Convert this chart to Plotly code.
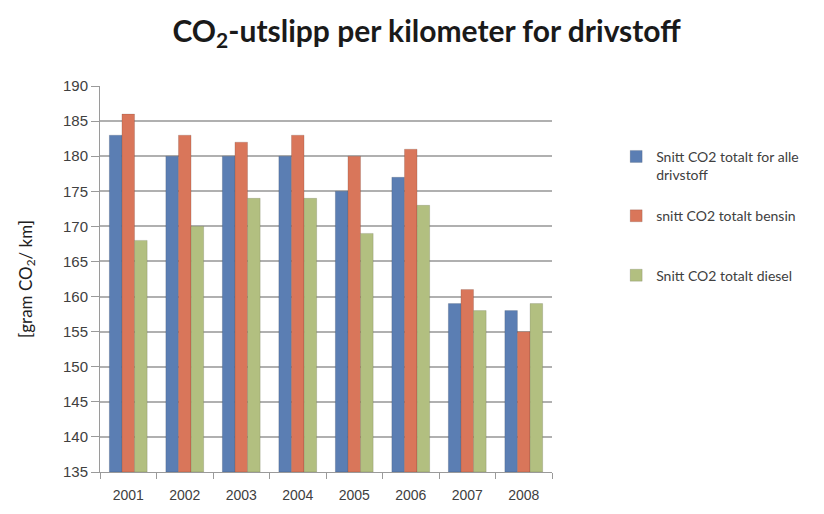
import plotly.graph_objects as go

YEARS = ["2001", "2002", "2003", "2004", "2005", "2006", "2007", "2008"]
ALLE = [183, 180, 180, 180, 175, 177, 159, 158]
BENSIN = [186, 183, 182, 183, 180, 181, 161, 155]
DIESEL = [168, 170, 174, 174, 169, 173, 158, 159]
FLOOR = 135

SERIES = [
    ("Snitt CO2 totalt for alle<br>drivstoff", ALLE, "#5B7EB3"),
    ("snitt CO2 totalt bensin<br> ", BENSIN, "#D9765A"),
    ("Snitt CO2 totalt diesel", DIESEL, "#B2BF80"),
]

fig = go.Figure()
for i, (name, vals, color) in enumerate(SERIES):
    fig.add_trace(
        go.Bar(
            x=YEARS,
            y=[v - FLOOR for v in vals],
            base=FLOOR,
            name=name,
            legendgroup=f"g{i}",
            hovertemplate="%{x}: %{customdata}<extra></extra>",
            customdata=vals,
            marker=dict(color=color, line=dict(color="rgba(0,0,0,0.12)", width=1)),
        )
    )

fig.update_layout(
    width=824,
    height=514,
    paper_bgcolor="white",
    plot_bgcolor="white",
    barmode="group",
    bargap=0.33,
    bargroupgap=0.0,
    margin=dict(l=92, r=280, t=78, b=50),
    title=dict(
        text="<b>CO<sub>2</sub>-utslipp per kilometer for drivstoff</b>",
        x=0.508,
        xanchor="center",
        y=0.955,
        yanchor="middle",
        font=dict(family="Lato", size=30, color="#1a1a1a"),
    ),
    font=dict(family="Liberation Sans", size=13, color="#404040"),
    legend=dict(
        x=1.142,
        y=0.858,
        xanchor="left",
        yanchor="top",
        valign="top",
        tracegroupgap=20,
        font=dict(family="Lato", size=14, color="#404040"),
        itemwidth=30,
    ),
    xaxis=dict(
        showline=True,
        linecolor="#9a9a9a",
        ticks="outside",
        ticklen=6,
        tickcolor="#9a9a9a",
        tickson="boundaries",
        tickfont=dict(size=14, color="#404040"),
        ticklabelstandoff=10,
    ),
    yaxis=dict(
        range=[FLOOR, 190],
        tickvals=list(range(FLOOR, 191, 5)),
        showline=True,
        linecolor="#9a9a9a",
        ticks="outside",
        ticklen=8,
        tickcolor="#9a9a9a",
        showgrid=True,
        gridcolor="#b0b0b0",
        gridwidth=1.5,
        tickfont=dict(size=15, color="#404040"),
        title=dict(
            text="[gram CO<sub>2</sub>/ km]",
            font=dict(family="Lato", size=17, color="#202020"),
            standoff=26,
        ),
    ),
)

fig.write_html("out.html")
